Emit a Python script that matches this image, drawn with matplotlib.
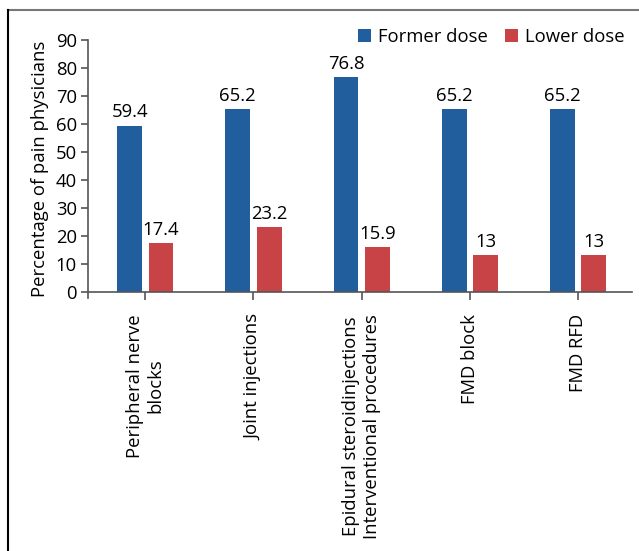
import matplotlib
matplotlib.use("Agg")
import matplotlib.pyplot as plt
import numpy as np
from matplotlib.lines import Line2D

categories = ["Peripheral nerve\nblocks", "Joint injections",
              "Epidural steroidinjections\nInterventional procedures",
              "FMD block", "FMD RFD"]
former = [59.4, 65.2, 76.8, 65.2, 65.2]
lower = [17.4, 23.2, 15.9, 13, 13]
yticks = [0, 10, 20, 30, 40, 50, 60, 70, 80, 90]

plt.rcParams['font.family'] = ['Open Sans', 'DejaVu Sans']
FS = 13.3

W, H = 639, 551
fig = plt.figure(figsize=(W/100, H/100), dpi=100)
ax = fig.add_axes([88/W, 1-298/H, (632-88)/W, (298-40)/H])

blue = "#215E9E"
red = "#C84345"
x = np.arange(len(categories))
bw = 0.23
off = 0.145
b1 = ax.bar(x - off, former, bw, color=blue, label="Former dose")
b2 = ax.bar(x + off, lower, bw, color=red, label="Lower dose")
for rect, v in zip(b1, former):
    ax.annotate(f"{v:g}", (rect.get_x()+rect.get_width()/2, v), xytext=(0, 3),
                textcoords="offset points", ha="center", va="bottom", fontsize=FS)
for rect, v in zip(b2, lower):
    ax.annotate(f"{v:g}", (rect.get_x()+rect.get_width()/2, v), xytext=(0, 3),
                textcoords="offset points", ha="center", va="bottom", fontsize=FS)

ax.set_xlim(-0.53, 4.5)
ax.set_ylim(-2.2, 90)
ax.set_yticks(yticks)
ax.set_xticks(x)
ax.spines['top'].set_visible(False)
ax.spines['right'].set_visible(False)
ax.spines['bottom'].set_position(('data', 0))
for s in ['left', 'bottom']:
    ax.spines[s].set_color("#555555")
    ax.spines[s].set_linewidth(1.2)
ax.tick_params(axis='y', labelsize=FS, length=5, width=1.2, color="#555555", pad=3)
ax.tick_params(axis='x', length=6, width=1.2, color="#555555", pad=10)
ax.set_xticklabels(categories, rotation=90, ha="center", va="top", fontsize=FS,
                   multialignment="center")
ax.set_ylabel("Percentage of pain physicians", fontsize=FS, labelpad=5)

ax.legend(loc="upper right", bbox_to_anchor=(1.0, 1.075), ncol=2, frameon=False,
          fontsize=FS, handlelength=0.7, handleheight=0.7, handletextpad=0.4,
          columnspacing=0.9, borderaxespad=0)

fig.add_artist(Line2D([8/W, 1], [1-10/H, 1-10/H], color="#777777", lw=1.5))
fig.add_artist(Line2D([8/W, 8/W], [0, 1-10/H], color="black", lw=1.5))

fig.savefig("out.png", dpi=100)
